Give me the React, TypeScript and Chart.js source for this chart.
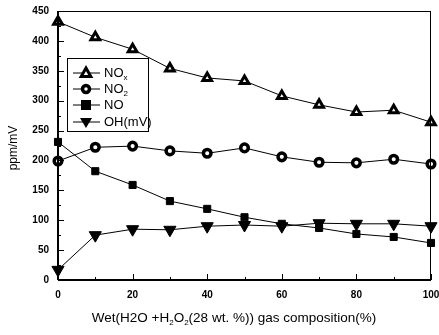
import React, { useEffect, useRef } from "react";
import { Chart, registerables } from "chart.js";

Chart.register(...registerables);

const xValues = [0, 10, 20, 30, 40, 50, 60, 70, 80, 90, 100];
const noxValues = [432, 406, 386, 354, 338, 333, 308, 293, 281, 284, 264];
const no2Values = [199, 222, 224, 216, 212, 221, 206, 197, 196, 202, 194];
const noValues = [231, 182, 159, 132, 119, 105, 94, 87, 77, 72, 62];
const ohValues = [17, 75, 85, 84, 90, 92, 90, 95, 94, 94, 90];

const legendNames = [
  { main: "NO", sub: "x" },
  { main: "NO", sub: "2" },
  { main: "NO", sub: "" },
  { main: "OH(mV)", sub: "" },
];

const FONT = "'Liberation Sans', Arial, sans-serif";

function drawMarker(ctx: CanvasRenderingContext2D, kind: number, x: number, y: number) {
  ctx.save();
  ctx.strokeStyle = "#000";
  ctx.fillStyle = "#000";
  if (kind === 0) {
    ctx.lineWidth = 3;
    ctx.fillStyle = "#fff";
    ctx.lineJoin = "miter";
    ctx.beginPath();
    ctx.moveTo(x, y - 5);
    ctx.lineTo(x + 4.8, y + 3.5);
    ctx.lineTo(x - 4.8, y + 3.5);
    ctx.closePath();
    ctx.fill();
    ctx.stroke();
  } else if (kind === 1) {
    ctx.lineWidth = 3.5;
    ctx.fillStyle = "#fff";
    ctx.beginPath();
    ctx.arc(x, y, 3.5, 0, Math.PI * 2);
    ctx.fill();
    ctx.stroke();
  } else if (kind === 2) {
    ctx.fillRect(x - 5, y - 5, 10, 10);
  } else {
    ctx.beginPath();
    ctx.moveTo(x, y + 6);
    ctx.lineTo(x + 6, y - 4);
    ctx.lineTo(x - 6, y - 4);
    ctx.closePath();
    ctx.fill();
  }
  ctx.restore();
}

const framePlugin = {
  id: "frame",
  afterDatasetsDraw(chart: any) {
    const ctx: CanvasRenderingContext2D = chart.ctx;
    const { left, right, top, bottom } = chart.chartArea;
    const xs = chart.scales.x;
    const ys = chart.scales.y;
    ctx.save();
    ctx.strokeStyle = "#000";
    ctx.lineWidth = 1;
    ctx.beginPath();
    ctx.moveTo(left, top + 0.5);
    ctx.lineTo(right, top + 0.5);
    ctx.moveTo(right - 0.5, top);
    ctx.lineTo(right - 0.5, bottom);
    ctx.stroke();
    ctx.lineWidth = 2;
    ctx.beginPath();
    ctx.moveTo(left, top);
    ctx.lineTo(left, bottom);
    ctx.moveTo(left, bottom);
    ctx.lineTo(right, bottom);
    ctx.stroke();
    ctx.lineWidth = 1;
    ctx.beginPath();
    for (let v = 0; v <= 450; v += 25) {
      const py = Math.round(ys.getPixelForValue(v)) + 0.5;
      const len = v % 50 === 0 ? 6 : 3;
      ctx.moveTo(left, py);
      ctx.lineTo(left + len, py);
    }
    for (let v = 0; v <= 100; v += 10) {
      const px = Math.round(xs.getPixelForValue(v)) + 0.5;
      const len = v % 20 === 0 ? 6 : 3;
      ctx.moveTo(px, bottom);
      ctx.lineTo(px, bottom - len);
    }
    ctx.stroke();

    // legend
    const bx = 67, by = 58, bw = 81, bh = 73;
    ctx.fillStyle = "#fff";
    ctx.fillRect(bx, by, bw, bh);
    ctx.lineWidth = 1;
    ctx.strokeRect(bx + 0.5, by + 0.5, bw, bh);
    const rows = [73, 89, 105, 122];
    rows.forEach((ry, i) => {
      ctx.lineWidth = 1;
      ctx.beginPath();
      ctx.moveTo(73, ry);
      ctx.lineTo(100, ry);
      ctx.stroke();
      drawMarker(ctx, i, 86, ry);
      ctx.fillStyle = "#000";
      ctx.font = `13px ${FONT}`;
      ctx.textBaseline = "middle";
      ctx.textAlign = "left";
      const n = legendNames[i];
      ctx.fillText(n.main, 104, ry);
      if (n.sub) {
        const w = ctx.measureText(n.main).width;
        ctx.font = `8px ${FONT}`;
        ctx.fillText(n.sub, 104 + w, ry + 5);
      }
    });

    // x title with subscripts
    const parts: [string, boolean][] = [
      ["Wet(H2O +H", false],
      ["2", true],
      ["O", false],
      ["2", true],
      ["(28 wt. %)) gas composition(%)", false],
    ];
    const big = `13.5px ${FONT}`;
    const small = `8px ${FONT}`;
    let total = 0;
    parts.forEach(([t, s]) => {
      ctx.font = s ? small : big;
      total += ctx.measureText(t).width;
    });
    let cx = 234 - total / 2;
    const ty = 318;
    ctx.textAlign = "left";
    ctx.textBaseline = "middle";
    ctx.fillStyle = "#000";
    parts.forEach(([t, s]) => {
      ctx.font = s ? small : big;
      ctx.fillText(t, cx, s ? ty + 5 : ty);
      cx += ctx.measureText(t).width;
    });

    // y title
    ctx.save();
    ctx.translate(14, 148);
    ctx.rotate(-Math.PI / 2);
    ctx.font = `12px ${FONT}`;
    ctx.textAlign = "center";
    ctx.textBaseline = "middle";
    ctx.fillText("ppm/mV", 0, 0);
    ctx.restore();

    ctx.restore();
  },
};

export default function App() {
  const ref = useRef<HTMLCanvasElement | null>(null);
  useEffect(() => {
    if (!ref.current) return;
    const mk = (data: number[], style: any, bg: string, bw: number, r: number, rot = 0) => ({
      data: xValues.map((x, i) => ({ x, y: data[i] })),
      borderColor: "#000",
      borderWidth: 1,
      pointStyle: style,
      pointBackgroundColor: bg,
      pointBorderColor: "#000",
      pointBorderWidth: bw,
      pointRadius: r,
      pointRotation: rot,
      tension: 0,
      fill: false,
      clip: false as any,
    });
    const chart = new Chart(ref.current, {
      type: "line",
      data: {
        datasets: [
          mk(noxValues, "triangle", "#fff", 3, 5),
          mk(no2Values, "circle", "#fff", 3.5, 3.8),
          mk(noValues, "rect", "#000", 1, 5),
          mk(ohValues, "triangle", "#000", 1, 7, 180),
        ] as any,
      },
      options: {
        animation: false,
        responsive: false,
        layout: { padding: { left: 0, right: 6, top: 11, bottom: 0 } },
        plugins: { legend: { display: false }, tooltip: { enabled: false } },
        scales: {
          x: {
            type: "linear",
            min: 0,
            max: 100,
            grid: { display: false, drawTicks: false },
            border: { display: false },
            ticks: {
              stepSize: 20,
              padding: 9,
              color: "#000",
              font: { family: FONT, size: 10, weight: "bold" },
              maxRotation: 0,
            },
            afterFit(scale: any) {
              scale.height = 55;
              scale.paddingLeft = 0;
              scale.paddingRight = 0;
            },
          },
          y: {
            min: 0,
            max: 450,
            grid: { display: false, drawTicks: false },
            border: { display: false },
            ticks: {
              stepSize: 50,
              padding: 9,
              color: "#000",
              font: { family: FONT, size: 10, weight: "bold" },
            },
            afterFit(scale: any) {
              scale.width = 58;
              scale.paddingTop = 0;
              scale.paddingBottom = 0;
            },
          },
        },
      },
      plugins: [framePlugin],
    });
    return () => chart.destroy();
  }, []);
  return (
    <div style={{ position: "fixed", left: 0, top: 0, width: 439, height: 335, background: "#fff" }}>
      <canvas ref={ref} width={439} height={335} />
    </div>
  );
}
